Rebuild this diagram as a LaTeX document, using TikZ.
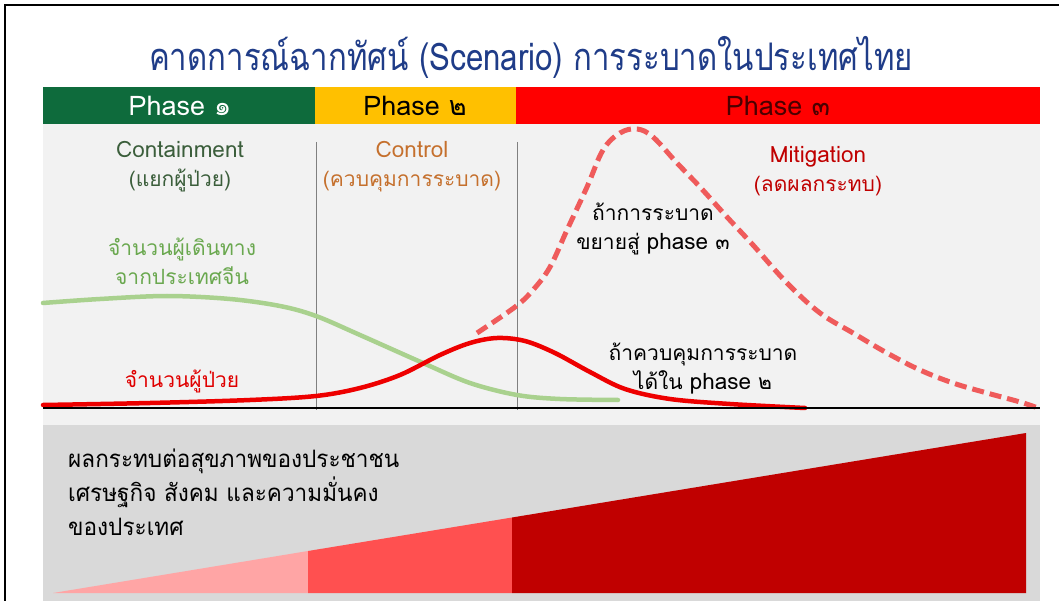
\documentclass[tikz,border=0pt]{standalone}
\usepackage{graphicx}
\usepackage{fontspec}
\setmainfont{Loma}[Script=Thai]
\definecolor{titleblue}{HTML}{1F3C88}
\definecolor{pgreen}{HTML}{0E6B3C}
\definecolor{pyellow}{HTML}{FFC000}
\definecolor{pred}{HTML}{FF0000}
\definecolor{panelA}{HTML}{F2F2F2}
\definecolor{panelB}{HTML}{D9D9D9}
\definecolor{cgreen}{HTML}{A9D18E}
\definecolor{cred}{HTML}{EE0000}
\definecolor{dred}{HTML}{EF5B5B}
\definecolor{triA}{HTML}{FFA5A5}
\definecolor{triB}{HTML}{FF5050}
\definecolor{triC}{HTML}{C00000}
\definecolor{tcontain}{HTML}{3B5E3B}
\definecolor{tcontrol}{HTML}{C5702D}
\definecolor{tmitig}{HTML}{C00000}
\definecolor{ttravel}{HTML}{6AA84F}
\definecolor{tpatient}{HTML}{E00000}
\definecolor{tphase}{HTML}{4A0000}
\newcommand{\latw}[1]{{\fontsize{22.5}{29}\selectfont #1}}
\tikzset{
  lbl/.style={inner sep=0pt, align=center, font=\fontsize{21}{29}\selectfont},
  phaselbl/.style={inner sep=0pt, font=\fontsize{27}{30}\selectfont},
  curve/.style={line width=4.5pt, line cap=round},
}
\begin{document}
\begin{tikzpicture}[x=1pt,y=-1pt]
\useasboundingbox (0,0) rectangle (1059,601);
\fill[white] (0,0) rectangle (1059,601);
% frame
\draw[line width=2pt] (5,601) -- (5,5) -- (1059,5);
% panels
\fill[panelA] (43,124) rectangle (1040,425);
\fill[panelB] (43,425) rectangle (1040,601);
% title
\node[inner sep=0pt, text=titleblue, font=\fontsize{38}{44}\selectfont] (title) at (531,57) {\scalebox{0.82}[1]{คาดการณ์ฉากทัศน์ (Scenario) การระบาดในประเทศไทย}};
% phase bar
\fill[pgreen] (43,87) rectangle (315,124);
\fill[pyellow] (315,87) rectangle (516,124);
\fill[pred] (516,87) rectangle (1040,124);
\node[phaselbl, text=white] (ph1) at (180,106) {Phase ๑};
\node[phaselbl, text=black] (ph2) at (415,106) {Phase ๒};
\node[phaselbl, text=tphase] (ph3) at (778,106) {Phase ๓};
% vertical separators
\draw[gray, line width=0.8pt] (316,142) -- (316,410);
\draw[gray, line width=0.8pt] (517,142) -- (517,410);
% curves
\draw[curve, cgreen] plot[smooth, tension=0.55] coordinates {(43,303) (100,299) (167,296) (230,299) (280,306) (316,316) (360,335) (423,363) (470,383) (517,395) (560,399) (618,400)};
\draw[curve, dred, line cap=butt, dash pattern=on 12pt off 6pt, line width=5pt] plot[smooth, tension=0.6] coordinates {(477,333) (515,307) (533,290) (550,267) (567,230) (587,187) (603,150) (620,133) (637,129) (653,137) (677,163) (700,187) (727,217) (753,245) (787,283) (820,313) (853,333) (887,353) (920,370) (953,383) (987,393) (1020,402) (1038,408)};
\draw[curve, cred] plot[smooth, tension=0.55] coordinates {(43,405) (150,403) (250,400) (316,396) (360,388) (400,375) (440,355) (470,343) (497,338) (525,341) (555,353) (590,372) (625,389) (670,399) (730,404) (805,408)};
% axis
\draw[black, line width=2.5pt] (43,408) -- (1040,408);
% labels
\node[lbl, text=tcontain] (contain) at (180,167) {\latw{Containment}\\(แยกผู้ป่วย)};
\node[lbl, text=tcontrol] (control) at (412,167) {\latw{Control}\\(ควบคุมการระบาด)};
\node[lbl, text=tmitig] (mitig) at (818,171) {\latw{Mitigation}\\(ลดผลกระทบ)};
\node[lbl, text=ttravel] (travel) at (182,261) {จำนวนผู้เดินทาง\\จากประเทศจีน};
\node[lbl, text=tpatient] (patient) at (182,381) {จำนวนผู้ป่วย};
\node[lbl, text=black] (spread) at (653,229) {ถ้าการระบาด\\ขยายสู่ \latw{phase} ๓};
\node[lbl, text=black] (ctrl2) at (703,369) {ถ้าควบคุมการระบาด\\ได้ใน \latw{phase} ๒};
% impact triangles
\fill[triA] (53,593) -- (308,551) -- (308,593) -- cycle;
\fill[triB] (308,593) -- (308,551) -- (512,517.5) -- (512,593) -- cycle;
\fill[triC] (512,593) -- (512,517.5) -- (1026,433) -- (1026,593) -- cycle;
\node[inner sep=0pt, anchor=west, align=left, text=black, font=\fontsize{24}{34}\selectfont] (impact) at (68,492) {\scalebox{0.94}[1]{ผลกระทบต่อสุขภาพของประชาชน}\\\scalebox{0.94}[1]{เศรษฐกิจ สังคม และความมั่นคง}\\\scalebox{0.94}[1]{ของประเทศ}};
\end{tikzpicture}
\end{document}
